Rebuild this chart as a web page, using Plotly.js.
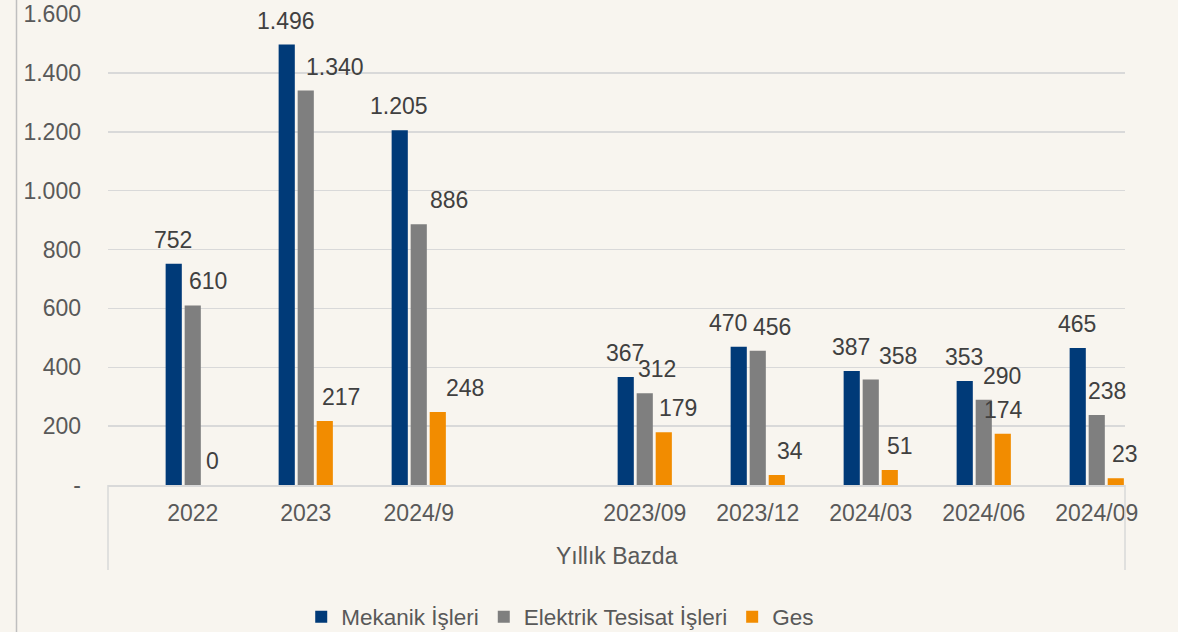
<!DOCTYPE html>
<html>
<head>
<meta charset="utf-8">
<script src="https://cdn.plot.ly/plotly-3.0.1.min.js"></script>
<style>
  html, body { margin: 0; padding: 0; background: #F8F5EF; }
  #chart { width: 1178px; height: 632px; }
</style>
</head>
<body>
<div id="chart"></div>
<script>
// ---- data ----
const categories = ['2022', '2023', '2024/9', ' ', '2023/09', '2023/12', '2024/03', '2024/06', '2024/09'];
const groupLabel = 'Yıllık Bazda';
const seriesNames = ['Mekanik İşleri', 'Elektrik Tesisat İşleri', 'Ges'];
const mekanik  = [752, 1496, 1205, null, 367, 470, 387, 353, 465];
const elektrik = [610, 1340,  886, null, 312, 456, 358, 290, 238];
const ges      = [  0,  217,  248, null, 179,  34,  51, 174,  23];
const yTickValues = [0, 200, 400, 600, 800, 1000, 1200, 1400, 1600];

// ---- styling ----
const colors = ['#003A78', '#7F7F7F', '#F28C00'];
const FONT = 'Liberation Sans, Arial, sans-serif';
const textGray = '#595959';
const labelGray = '#404040';
const bg = '#F8F5EF';
const seriesOffsetPx = [-20, 0, 20];
// manual nudges of data labels (Excel-style label placement), px
const labelNudge = [
  [0, 0, 0, 0, 0, -10, 0, 0, 0],
  [15, 29, 30, 0, 12, 14, 27, 18, 10],
  [0, 15, 26, 0, 13, 12, 9, 0, 8]
];

function fmt(v) {
  if (v === 0) return '0';
  return String(v).replace(/\B(?=(\d{3})+(?!\d))/g, '.');
}
function fmtTick(v) {
  if (v === 0) return '-';
  return String(v).replace(/\B(?=(\d{3})+(?!\d))/g, '.');
}

const seriesValues = [mekanik, elektrik, ges];
const traces = seriesValues.map((vals, i) => ({
  type: 'bar',
  name: seriesNames[i],
  x: categories,
  y: vals,
  marker: { color: colors[i] },
  hoverinfo: 'x+y+name'
}));

const annotations = [];
seriesValues.forEach((vals, i) => {
  vals.forEach((v, j) => {
    if (v === null) return;
    annotations.push({
      x: j, y: v, xref: 'x', yref: 'y',   // x = category index on the category axis
      text: fmt(v), showarrow: false,
      xanchor: 'center', yanchor: 'middle',
      xshift: seriesOffsetPx[i] + labelNudge[i][j],
      yshift: 24,
      font: { family: FONT, size: 23, color: labelGray }
    });
  });
});
annotations.push({
  x: 0.5, y: -0.151, xref: 'paper', yref: 'paper',
  text: groupLabel, showarrow: false,
  xanchor: 'center', yanchor: 'middle',
  font: { family: FONT, size: 23, color: textGray }
});

const plotH = 471, plotW = 1017;
const shapes = [
  { type: 'line', xref: 'paper', yref: 'paper', x0: 0, x1: 0, y0: 0, y1: -85 / plotH,
    line: { color: '#D9D9D9', width: 1.5 } },
  { type: 'line', xref: 'paper', yref: 'paper', x0: 1, x1: 1, y0: 0, y1: -85 / plotH,
    line: { color: '#D9D9D9', width: 1.5 } },
  { type: 'line', xref: 'paper', yref: 'paper', x0: (16.5 - 108) / plotW, x1: (16.5 - 108) / plotW,
    y0: -147 / plotH, y1: 1 + 14 / plotH,
    line: { color: '#BFBFBF', width: 1.5 } }
];

const layout = {
  width: 1178, height: 632,
  margin: { l: 108, r: 53, t: 14, b: 147, pad: 0, autoexpand: false },
  paper_bgcolor: bg, plot_bgcolor: bg,
  font: { family: FONT, size: 23, color: textGray },
  barmode: 'group', bargap: 0.495, bargroupgap: 0.15,
  showlegend: true,
  legend: {
    orientation: 'h', x: 0.19, xanchor: 'left',
    yref: 'container', y: 15 / 632, yanchor: 'middle',
    font: { family: FONT, size: 22.5, color: textGray },
    bgcolor: 'rgba(0,0,0,0)', traceorder: 'normal'
  },
  xaxis: {
    type: 'category', categoryorder: 'array', categoryarray: categories,
    range: [-0.75, 8.25], fixedrange: true, automargin: false,
    showline: true, linecolor: '#D9D9D9', linewidth: 1.5,
    showgrid: false, ticks: '', zeroline: false,
    ticklabelstandoff: 7,
    tickfont: { family: FONT, size: 23, color: textGray }
  },
  yaxis: {
    range: [0, 1600], fixedrange: true, automargin: false,
    tickvals: yTickValues, ticktext: yTickValues.map(fmtTick),
    showgrid: true, gridcolor: '#D9D9D9', gridwidth: 1.5,
    zeroline: false, showline: false, ticks: '',
    ticklabelstandoff: 26,
    tickfont: { family: FONT, size: 23, color: textGray }
  },
  annotations: annotations,
  shapes: shapes
};

Plotly.newPlot('chart', traces, layout, { displayModeBar: false, staticPlot: true });
</script>
</body>
</html>
